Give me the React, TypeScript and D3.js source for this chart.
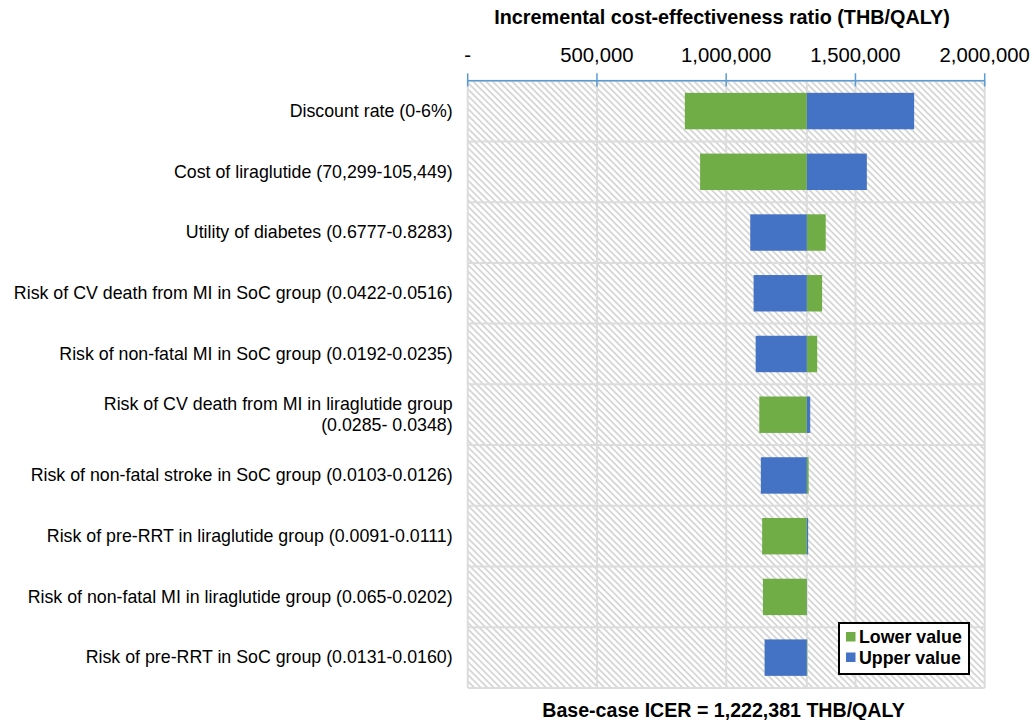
import React from 'react';
import * as d3 from 'd3';

const categories = [
    ['Discount rate (0-6%)'],
    ['Cost of liraglutide (70,299-105,449)'],
    ['Utility of diabetes (0.6777-0.8283)'],
    ['Risk of CV death from MI in SoC group (0.0422-0.0516)'],
    ['Risk of non-fatal MI in SoC group (0.0192-0.0235)'],
    ['Risk of CV death from MI in liraglutide group', '(0.0285- 0.0348)'],
    ['Risk of non-fatal stroke in SoC group (0.0103-0.0126)'],
    ['Risk of pre-RRT in liraglutide group (0.0091-0.0111)'],
    ['Risk of non-fatal MI in liraglutide group (0.065-0.0202)'],
    ['Risk of pre-RRT in SoC group (0.0131-0.0160)'],
];
const lowerValues = [840000, 899000, 1385000, 1371000, 1352000, 1128000, 1319000, 1139000, 1142000, 1314000];
const upperValues = [1727000, 1544000, 1093000, 1106000, 1114000, 1325000, 1134000, 1317000, 1312500, 1148500];
const baseValue = 1312000;
const tickValues = [0, 500000, 1000000, 1500000, 2000000];
const tickLabels = ['-', '500,000', '1,000,000', '1,500,000', '2,000,000'];
const seriesNames = ['Lower value', 'Upper value'];

const GREEN = '#70ad47';
const BLUE = '#4472c4';
const FONT = "Arial, 'Liberation Sans', sans-serif";

export default function App() {
    const left = 467.7;
    const right = 984.7;
    const top = 80.7;
    const bottom = 688;

    const x = d3.scaleLinear().domain([0, 2000000]).range([left, right]);
    const y = d3
        .scaleBand<number>()
        .domain(d3.range(categories.length))
        .range([top, bottom])
        .paddingInner(0.4)
        .paddingOuter(0.2);
    const step = y.step();
    const bw = y.bandwidth();

    // a bar from the base value to v
    const bar = (v: number) => ({ x0: x(Math.min(v, baseValue)), x1: x(Math.max(v, baseValue)) });

    return (
        <svg width={1034} height={720} style={{ position: 'absolute', left: 0, top: 0, background: '#fff' }}>
            <defs>
                <pattern id="hatch" patternUnits="userSpaceOnUse" width={4.6} height={4.6} patternTransform="rotate(-45)">
                    <rect width={4.6} height={4.6} fill="#fff" />
                    <line x1={1} y1={0} x2={1} y2={4.6} stroke="#d3d3d3" strokeWidth={1.7} />
                </pattern>
            </defs>

            {/* plot background */}
            <rect x={left} y={top} width={right - left} height={bottom - top} fill="url(#hatch)" />

            {/* grid lines */}
            {d3.range(categories.length + 1).map((i) => (
                <line key={'h' + i} x1={left} x2={right} y1={top + i * step} y2={top + i * step} stroke="#dcdcdc" strokeWidth={2} />
            ))}
            {[...tickValues, baseValue].map((t) => (
                <line key={'v' + t} x1={x(t)} x2={x(t)} y1={top} y2={bottom} stroke="#dcdcdc" strokeWidth={2} />
            ))}

            {/* bars */}
            {categories.map((c, i) => {
                const lo = bar(lowerValues[i]);
                const up = bar(upperValues[i]);
                const yy = y(i) as number;
                return (
                    <g key={i}>
                        <rect x={lo.x0} y={yy} width={Math.max(0, lo.x1 - lo.x0)} height={bw} fill={GREEN} />
                        <rect x={up.x0} y={yy} width={Math.max(0, up.x1 - up.x0)} height={bw} fill={BLUE} />
                    </g>
                );
            })}

            {/* category labels */}
            {categories.map((lines, i) => {
                const cy = (y(i) as number) + bw / 2;
                const y0 = cy + 5.8 - ((lines.length - 1) * 21) / 2;
                return (
                    <text key={i} x={452.7} fontFamily={FONT} fontSize={17.8} fill="#000" textAnchor="end">
                        {lines.map((l, j) => (
                            <tspan key={j} x={452.7} y={y0 + j * 21}>
                                {l}
                            </tspan>
                        ))}
                    </text>
                );
            })}

            {/* top axis */}
            <line x1={left} x2={right} y1={top} y2={top} stroke="#5b9bd5" strokeWidth={1.5} />
            {tickValues.map((t, i) => (
                <g key={t}>
                    <line x1={x(t)} x2={x(t)} y1={73.3} y2={86.5} stroke="#5b9bd5" strokeWidth={1.5} />
                    <text x={x(t)} y={61.5} textAnchor="middle" fontFamily={FONT} fontSize={20.3} fill="#000">
                        {tickLabels[i]}
                    </text>
                </g>
            ))}
            <text x={722} y={24} textAnchor="middle" fontFamily={FONT} fontSize={19.8} fontWeight="bold" fill="#000">
                Incremental cost-effectiveness ratio (THB/QALY)
            </text>

            {/* legend */}
            <rect x={839} y={623} width={130} height={51} fill="#fff" stroke="#000" strokeWidth={2} />
            {seriesNames.map((s, i) => (
                <g key={s}>
                    <rect x={846} y={632 + i * 20.5} width={9.5} height={9.5} fill={i === 0 ? GREEN : BLUE} />
                    <text x={859} y={643 + i * 20.5} fontFamily={FONT} fontSize={17.8} fontWeight="bold" fill="#000">
                        {s}
                    </text>
                </g>
            ))}

            <text x={723.5} y={716.5} textAnchor="middle" fontFamily={FONT} fontSize={19.6} fontWeight="bold" fill="#000">
                Base-case ICER = 1,222,381 THB/QALY
            </text>
        </svg>
    );
}
